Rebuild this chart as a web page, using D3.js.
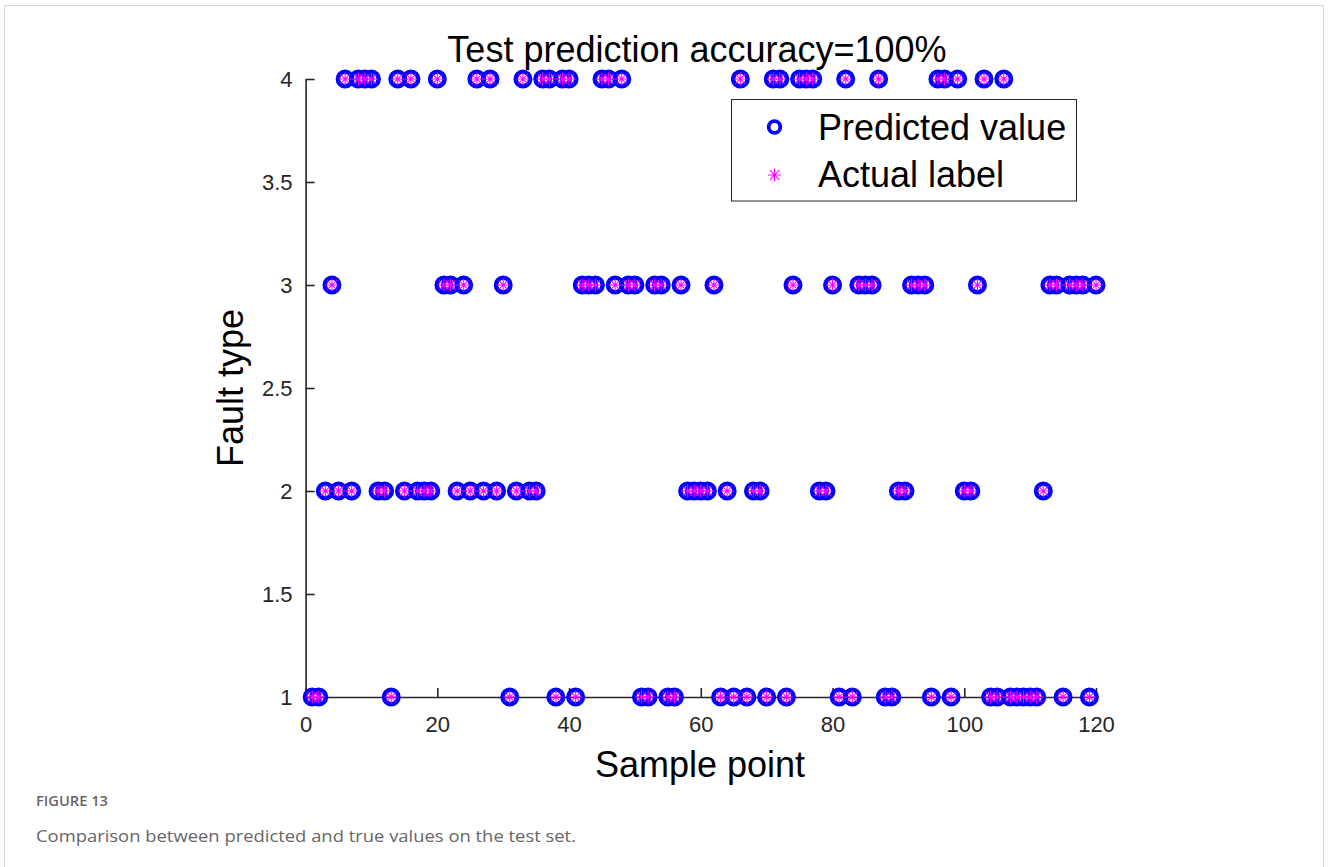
<!DOCTYPE html>
<html>
<head>
<meta charset="utf-8">
<script src="https://cdn.jsdelivr.net/npm/d3@7"></script>
<style>
  html, body { margin: 0; padding: 0; background: #fff; }
  svg { display: block; }
</style>
</head>
<body>
<svg id="chart" width="1328" height="867"></svg>
<script>
// Sample index on the test set
const samplePoints = [
  1,2,3,4,5,6,7,8,9,10,11,12,13,14,15,16,17,18,19,20,
  21,22,23,24,25,26,27,28,29,30,31,32,33,34,35,36,37,38,39,40,
  41,42,43,44,45,46,47,48,49,50,51,52,53,54,55,56,57,58,59,60,
  61,62,63,64,65,66,67,68,69,70,71,72,73,74,75,76,77,78,79,80,
  81,82,83,84,85,86,87,88,89,90,91,92,93,94,95,96,97,98,99,100,
  101,102,103,104,105,106,107,108,109,110,111,112,113,114,115,116,117,118,119,120
];

// True fault class of each sample
const actualLabel = [
  1,1,2,3,2,4,2,4,4,4, 2,2,1,4,2,4,2,2,2,4,
  3,3,2,3,2,4,2,4,2,3, 1,2,4,2,2,4,4,1,4,4,
  1,3,3,3,4,4,3,4,3,3, 1,1,3,3,1,1,3,2,2,2,
  2,3,1,2,1,4,1,2,2,1, 4,4,1,3,4,4,4,2,2,3,
  1,4,1,3,3,3,4,1,1,2, 2,3,3,3,1,4,4,1,4,2,
  2,3,4,1,1,4,1,1,1,1, 1,2,3,3,1,3,3,3,1,3
];

// Class predicted by the model for each sample
const predictedValue = [
  1,1,2,3,2,4,2,4,4,4, 2,2,1,4,2,4,2,2,2,4,
  3,3,2,3,2,4,2,4,2,3, 1,2,4,2,2,4,4,1,4,4,
  1,3,3,3,4,4,3,4,3,3, 1,1,3,3,1,1,3,2,2,2,
  2,3,1,2,1,4,1,2,2,1, 4,4,1,3,4,4,4,2,2,3,
  1,4,1,3,3,3,4,1,1,2, 2,3,3,3,1,4,4,1,4,2,
  2,3,4,1,1,4,1,1,1,1, 1,2,3,3,1,3,3,3,1,3
];

const xTicks = [0, 20, 40, 60, 80, 100, 120];
const yTicks = [1, 1.5, 2, 2.5, 3, 3.5, 4];
const legendLabels = ["Predicted value", "Actual label"];
const titleText = "Test prediction accuracy=100%";
const xLabel = "Sample point";
const yLabel = "Fault type";
const captionHead = "FIGURE 13";
const captionText = "Comparison between predicted and true values on the test set.";

const FONT = "'Liberation Sans', Arial, Helvetica, sans-serif";
const CAPTION_FONT = "'Open Sans', 'Noto Sans', sans-serif";
const AXIS = "#262626";
const BLUE = "#0000ff";
const MAGENTA = "#ff00ff";

const svg = d3.select("#chart");

// page frame
svg.append("rect")
  .attr("x", 4.5).attr("y", 5.5)
  .attr("width", 1319).attr("height", 880)
  .attr("fill", "none").attr("stroke", "#d4d4d4").attr("stroke-width", 1);

const x = d3.scaleLinear().domain([0, 120]).range([305.6, 1096]);
const y = d3.scaleLinear().domain([1, 4]).range([697, 79]);

// axes (ticks point inward)
const xAxis = d3.axisBottom(x).tickValues(xTicks).tickFormat(d3.format("d"))
  .tickSizeInner(-9).tickSizeOuter(0).tickPadding(19);
const yAxis = d3.axisLeft(y).tickValues(yTicks).tickFormat(d => String(d))
  .tickSizeInner(-9).tickSizeOuter(0).tickPadding(13);

const gx = svg.append("g").attr("transform", `translate(0,${y(1)})`).call(xAxis);
const gy = svg.append("g").attr("transform", `translate(${x(0)},0)`).call(yAxis);

[gx, gy].forEach(g => {
  g.select(".domain").attr("stroke", AXIS).attr("stroke-width", 1.6);
  g.selectAll(".tick line").attr("stroke", AXIS).attr("stroke-width", 1.6);
  g.selectAll(".tick text")
    .attr("fill", AXIS)
    .style("font-family", FONT)
    .style("font-size", "22px");
});

// asterisk marker path: '+' combined with 'x'
function asteriskPath(r) {
  const d = r * 0.72;
  return `M${-r},0L${r},0M0,${-r}L0,${r}` +
         `M${-d},${-d}L${d},${d}M${-d},${d}L${d},${-d}`;
}

const rows = samplePoints.map((s, i) => ({ s, p: predictedValue[i], a: actualLabel[i] }));

// predicted values: open circles
svg.append("g").selectAll("circle")
  .data(rows).join("circle")
  .attr("cx", d => x(d.s))
  .attr("cy", d => y(d.p))
  .attr("r", 7.2)
  .attr("fill", "none")
  .attr("stroke", BLUE)
  .attr("stroke-width", 4.6);

// actual labels: asterisks
svg.append("g").selectAll("path")
  .data(rows).join("path")
  .attr("transform", d => `translate(${x(d.s)},${y(d.a)})`)
  .attr("d", asteriskPath(6.5))
  .attr("fill", "none")
  .attr("stroke", MAGENTA)
  .attr("stroke-width", 1.1);

// title
svg.append("text")
  .attr("x", 697).attr("y", 62)
  .attr("text-anchor", "middle")
  .style("font-family", FONT).style("font-size", "36px")
  .attr("fill", "#000")
  .text(titleText);

// axis labels
svg.append("text")
  .attr("x", 700).attr("y", 777)
  .attr("text-anchor", "middle")
  .style("font-family", FONT).style("font-size", "36px")
  .attr("fill", "#000")
  .text(xLabel);

svg.append("text")
  .attr("transform", `translate(243,${y(2.5)}) rotate(-90)`)
  .attr("text-anchor", "middle")
  .style("font-family", FONT).style("font-size", "36px")
  .attr("fill", "#000")
  .text(yLabel);

// legend
const lg = svg.append("g");
lg.append("rect")
  .attr("x", 731.5).attr("y", 99.5)
  .attr("width", 345).attr("height", 101.5)
  .attr("fill", "#fff").attr("stroke", AXIS).attr("stroke-width", 1);

lg.append("circle")
  .attr("cx", 774.5).attr("cy", 127)
  .attr("r", 5.8)
  .attr("fill", "none").attr("stroke", BLUE).attr("stroke-width", 3.8);

lg.append("path")
  .attr("transform", "translate(774.5,175)")
  .attr("d", asteriskPath(6.5))
  .attr("fill", "none").attr("stroke", MAGENTA).attr("stroke-width", 1.1);

lg.selectAll("text.leg")
  .data(legendLabels).join("text")
  .attr("class", "leg")
  .attr("x", 818)
  .attr("y", (d, i) => 140 + i * 47)
  .style("font-family", FONT).style("font-size", "36px")
  .attr("fill", "#000")
  .text(d => d);

// caption
svg.append("text")
  .attr("x", 36).attr("y", 806)
  .style("font-family", CAPTION_FONT)
  .style("font-size", "13.5px").style("font-weight", "600")
  .attr("fill", "#666")
  .attr("textLength", 72).attr("lengthAdjust", "spacingAndGlyphs")
  .text(captionHead);

svg.append("text")
  .attr("x", 36).attr("y", 842)
  .style("font-family", CAPTION_FONT)
  .style("font-size", "17px")
  .attr("fill", "#666")
  .attr("textLength", 540).attr("lengthAdjust", "spacingAndGlyphs")
  .text(captionText);
</script>
</body>
</html>
